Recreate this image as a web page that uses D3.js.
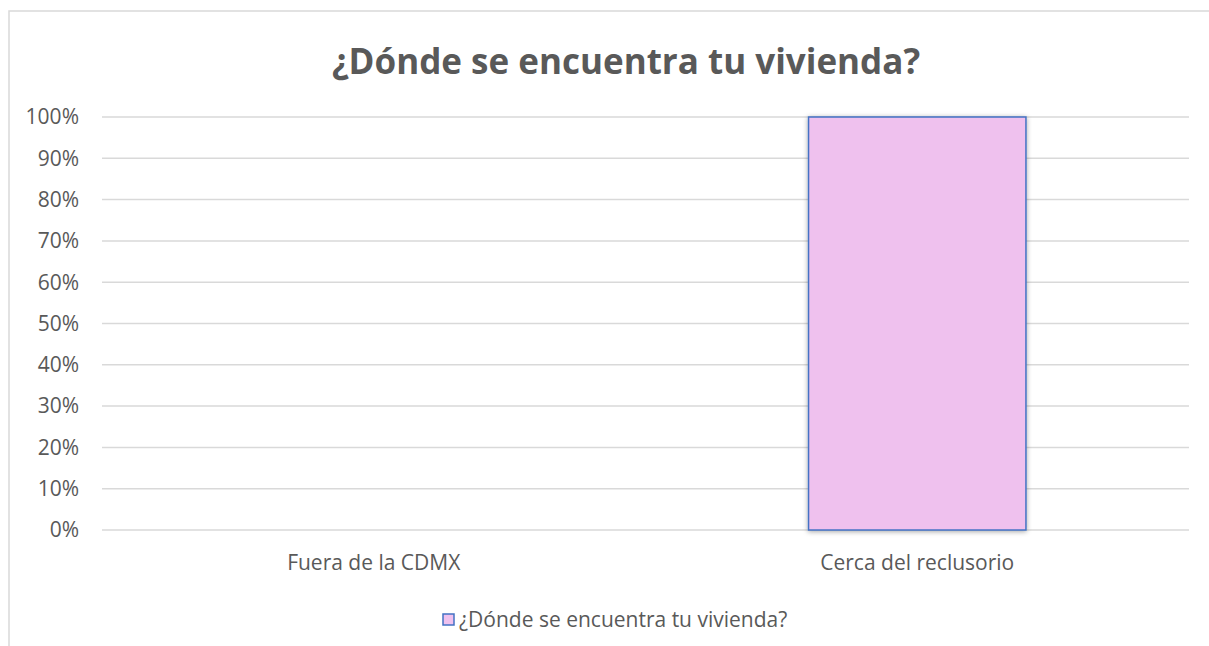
<!DOCTYPE html>
<html>
<head>
<meta charset="utf-8">
<script src="https://cdn.jsdelivr.net/npm/d3@7/dist/d3.min.js"></script>
<style>
  body { margin: 0; background: #fff; }
  text { font-family: "Open Sans", sans-serif; }
  .tick-label { fill: #595959; font-size: 21px; }
  .legend-label { fill: #595959; font-size: 21px; }
  .gridline { stroke: #d9d9d9; stroke-width: 1.5; }
</style>
</head>
<body>
<div id="chart"></div>
<script>
// Bar chart - ¿Dónde se encuentra tu vivienda?
const categories = ["Fuera de la CDMX", "Cerca del reclusorio"];
const values     = [0, 1];
const yTicks     = [0, 0.1, 0.2, 0.3, 0.4, 0.5, 0.6, 0.7, 0.8, 0.9, 1.0];
const seriesName = "¿Dónde se encuentra tu vivienda?";
const titleText  = "¿Dónde se encuentra tu vivienda?";

const W = 1209, H = 646;
const margin = { top: 117, right: 20, bottom: 116, left: 102 };
const plotW = W - margin.left - margin.right;
const plotH = H - margin.top - margin.bottom;

const svg = d3.select("#chart").append("svg")
  .attr("width", W).attr("height", H);

const defs = svg.append("defs");
const shadow = defs.append("filter").attr("id", "shadow")
  .attr("x", "-10%").attr("y", "-10%").attr("width", "120%").attr("height", "120%");
shadow.append("feDropShadow")
  .attr("dx", 0).attr("dy", 1).attr("stdDeviation", 2.5)
  .attr("flood-color", "#000").attr("flood-opacity", 0.35);

// Chart area border
svg.append("rect")
  .attr("x", 9).attr("y", 11)
  .attr("width", W + 10).attr("height", H + 10)
  .style("fill", "none").style("stroke", "#d9d9d9").style("stroke-width", 1.5);

// Title
svg.append("text")
  .attr("x", 626).attr("y", 74)
  .attr("text-anchor", "middle")
  .style("font-size", "35px").style("font-weight", "bold").style("fill", "#595959")
  .text(titleText);

const g = svg.append("g").attr("transform", `translate(${margin.left},${margin.top})`);

const x = d3.scaleBand().domain(categories).range([0, plotW])
  .paddingInner(0.6).paddingOuter(0.3);
const y = d3.scaleLinear().domain([0, 1]).range([plotH, 0]);

// Gridlines
g.append("g").selectAll("line").data(yTicks).join("line")
  .attr("class", "gridline")
  .attr("x1", 0).attr("x2", plotW)
  .attr("y1", d => y(d)).attr("y2", d => y(d));

// Y tick labels
g.append("g").selectAll("text").data(yTicks).join("text")
  .attr("class", "tick-label")
  .attr("x", -23).attr("y", d => y(d))
  .attr("dy", "0.35em").attr("text-anchor", "end")
  .text(d => d3.format(".0%")(d));

// Bars
g.append("g").selectAll("rect").data(values).join("rect")
  .attr("x", (d, i) => x(categories[i]))
  .attr("y", d => y(d))
  .attr("width", x.bandwidth())
  .attr("height", d => plotH - y(d))
  .style("fill", "#efc1ee")
  .style("stroke", d => d > 0 ? "#4472c4" : "none")
  .style("stroke-width", 1.5)
  .attr("filter", "url(#shadow)");

// Category labels
g.append("g").selectAll("text").data(categories).join("text")
  .attr("class", "tick-label")
  .attr("x", d => x(d) + x.bandwidth() / 2)
  .attr("y", plotH + 40)
  .attr("text-anchor", "middle")
  .text(d => d);

// Legend
const legend = svg.append("g").attr("transform", "translate(443,620)");
legend.append("rect")
  .attr("x", 0).attr("y", -6).attr("width", 11).attr("height", 11)
  .style("fill", "#efc1ee").style("stroke", "#4472c4").style("stroke-width", 1.5);
legend.append("text")
  .attr("class", "legend-label")
  .attr("x", 16).attr("y", 0).attr("dy", "0.35em")
  .text(seriesName);
</script>
</body>
</html>
